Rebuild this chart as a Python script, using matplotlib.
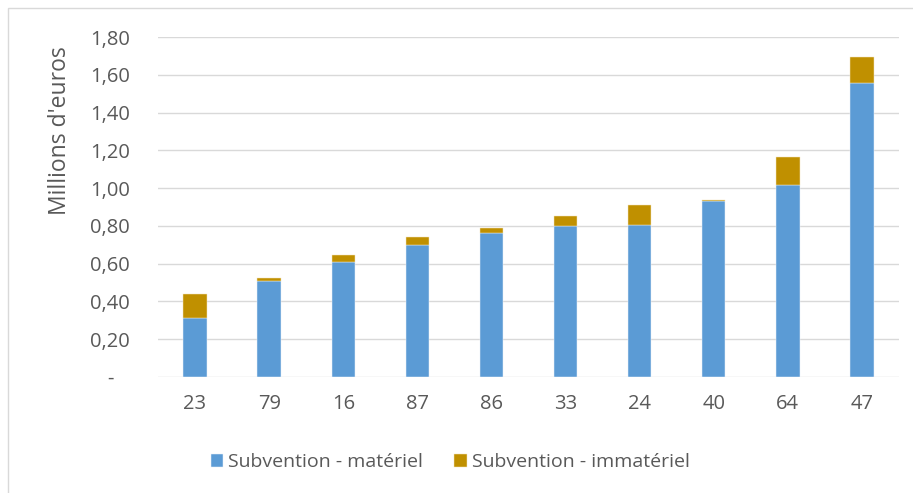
import matplotlib
matplotlib.use("Agg")
import matplotlib.pyplot as plt
from matplotlib.patches import Rectangle
from matplotlib.ticker import FixedLocator, FuncFormatter

# Subsidies per department, in millions of euros
departements = ["23", "79", "16", "87", "86", "33", "24", "40", "64", "47"]
materiel = [0.314, 0.510, 0.611, 0.697, 0.761, 0.800, 0.805, 0.932, 1.015, 1.558]
immateriel = [0.124, 0.014, 0.036, 0.043, 0.029, 0.054, 0.104, 0.005, 0.152, 0.134]
series_labels = ["Subvention - matériel", "Subvention - immatériel"]
y_ticks = [0.0, 0.2, 0.4, 0.6, 0.8, 1.0, 1.2, 1.4, 1.6, 1.8]

BLUE = "#5B9BD5"
GOLD = "#C09000"
TEXT = "#595959"
GRID = "#D9D9D9"

plt.rcParams["font.family"] = ["Open Sans", "DejaVu Sans"]

fig = plt.figure(figsize=(9.13, 4.93), dpi=100)
ax = fig.add_axes([158 / 913, 1 - 377 / 493, (899 - 158) / 913, (377 - 37) / 493])

x = range(len(departements))
width = 0.317
b1 = ax.bar(x, materiel, width, color=BLUE, edgecolor="#EAF1FA", linewidth=0.35,
            label=series_labels[0], zorder=3)
b2 = ax.bar(x, immateriel, width, bottom=materiel, color=GOLD, edgecolor="#F3E6C0",
            linewidth=0.35, label=series_labels[1], zorder=3)

ax.set_xlim(-0.5, len(departements) - 0.5)
ax.set_ylim(0, 1.8)
ax.yaxis.set_major_locator(FixedLocator(y_ticks))


def fmt(v, _pos):
    if abs(v) < 1e-9:
        return "-   "
    return f"{v:.2f}".replace(".", ",")


ax.yaxis.set_major_formatter(FuncFormatter(fmt))
ax.set_xticks(list(x))
ax.set_xticklabels(departements)
ax.grid(axis="y", color=GRID, linewidth=1.0, zorder=0)
ax.set_axisbelow(True)
for s in ax.spines.values():
    s.set_visible(False)
ax.tick_params(axis="both", length=0, labelsize=14.5, colors=TEXT)
ax.tick_params(axis="y", pad=20)
ax.tick_params(axis="x", pad=12)

fig.text(60 / 913, 1 - 131 / 493, "Millions d'euros", rotation=90,
         ha="center", va="center", fontsize=16.5, color=TEXT)

leg = fig.legend(handles=[b1, b2], loc="center", bbox_to_anchor=(450 / 913, 1 - 462 / 493),
                 ncol=2, frameon=False, fontsize=14.0, handlelength=0.65, handleheight=0.65,
                 handletextpad=0.25, columnspacing=1.6)
for t in leg.get_texts():
    t.set_color(TEXT)

# Light frame around the chart area
fig.patches.append(Rectangle((8 / 913, -0.1), 1.2, 1 - 8 / 493 + 0.1,
                             transform=fig.transFigure, fill=False,
                             edgecolor=GRID, linewidth=1.0, zorder=0))

fig.savefig("out.png", dpi=100, facecolor="white")
